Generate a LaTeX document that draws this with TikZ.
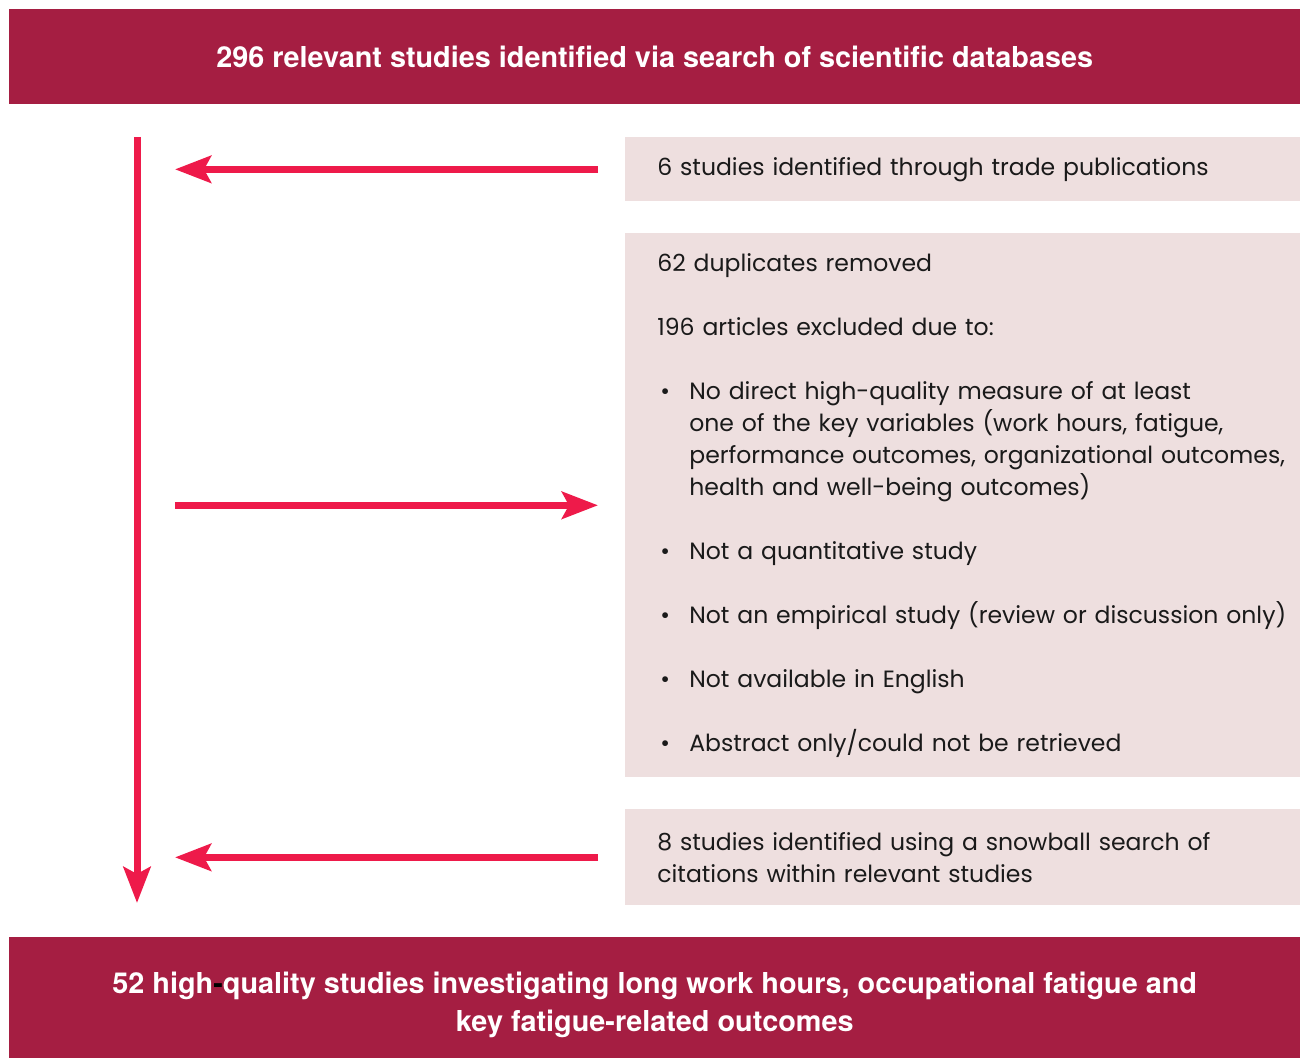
\documentclass[tikz,border=0pt]{standalone}
\usepackage{fontspec}
\setmainfont{Poppins}
\newfontfamily\headfont{TeX Gyre Heros}
\usetikzlibrary{arrows.meta,positioning}

\definecolor{bannerred}{HTML}{A51E42}
\definecolor{flowred}{HTML}{EE1A4A}
\definecolor{panelpink}{HTML}{EEDFDF}
\definecolor{bodytext}{HTML}{1A1A1A}

\newcommand{\bulletline}{\makebox[0.64cm][l]{\hspace{0.06cm}\textbullet}}
\newcommand{\contline}{\hspace*{0.64cm}}

\tikzset{
  banner/.style={fill=bannerred, text=white, anchor=north west, inner sep=0pt,
    align=center, minimum width=25.82cm,
    font=\headfont\bfseries\fontsize{16.4}{21.6}\selectfont},
  panel/.style={fill=panelpink, text=bodytext, anchor=north west, inner ysep=0pt,
    inner xsep=0.64cm, text width=12.6cm, align=left,
    font=\fontsize{13.4}{18.2}\selectfont},
  flowline/.style={draw=flowred, line width=0.14cm,
    -{Stealth[length=0.72cm, width=0.54cm, inset=0.14cm]}},
}

\begin{document}
\begin{tikzpicture}[x=0.02cm, y=-0.02cm]
\useasboundingbox (0,0) rectangle (1300,1057);

% top and bottom banners
\node[banner, minimum height=1.9cm] (search) at (9,9)
  {296 relevant studies identified via search of scientific databases};
\node[banner, minimum height=2.72cm] (final) at (9,937)
  {52 high{\color{black}-}quality studies investigating long work hours, occupational fatigue and\\
   key fatigue-related outcomes};

% side panels (run on past the right edge)
\node[panel, minimum height=1.28cm] (trade) at (625,137)
  {6 studies identified through trade publications};
\node[panel, minimum height=10.88cm] (excluded) at (625,233)
  {62 duplicates removed\\[0.64cm]
   196 articles excluded due to:\\[0.64cm]
   \bulletline No direct high-quality measure of at least\\
   \contline one of the key variables (work hours, fatigue,\\
   \contline performance outcomes, organizational outcomes,\\
   \contline health and well-being outcomes)\\[0.64cm]
   \bulletline Not a quantitative study\\[0.64cm]
   \bulletline Not an empirical study (review or discussion only)\\[0.64cm]
   \bulletline Not available in English\\[0.64cm]
   \bulletline Abstract only/could not be retrieved};
\node[panel, minimum height=1.92cm] (snowball) at (625,809)
  {8 studies identified using a snowball search of\\
   citations within relevant studies};

% main flow
\coordinate (spinetop) at (137,137);
\coordinate (spineend) at (137,903);
\draw[flowline] (spinetop) -- (spineend);

\draw[flowline, shorten <=0.54cm, shorten >=0.76cm] (trade.west) -- (trade.west -| spinetop);
\draw[flowline, shorten <=0.76cm, shorten >=0.54cm] (excluded.west -| spinetop) -- (excluded.west);
\draw[flowline, shorten <=0.54cm, shorten >=0.76cm] (snowball.west) -- (snowball.west -| spinetop);
\end{tikzpicture}
\end{document}
